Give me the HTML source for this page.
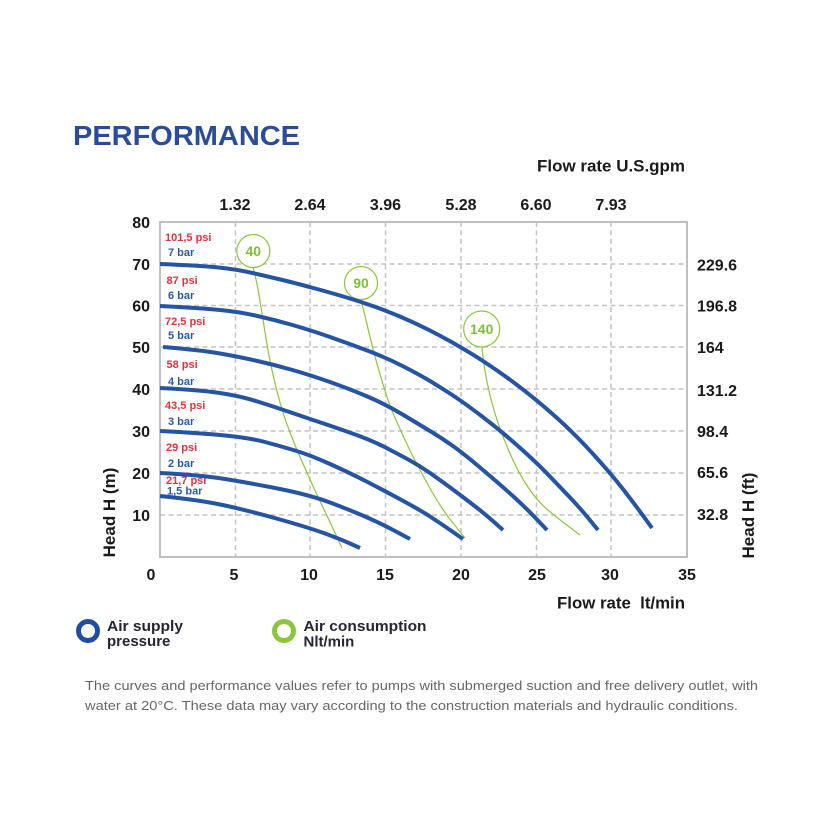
<!DOCTYPE html>
<html>
<head>
<meta charset="utf-8">
<style>
  html,body{margin:0;padding:0;background:#fff;}
  svg{display:block;}
  text{font-family:"Liberation Sans", Arial, sans-serif;}
</style>
</head>
<body>
<svg width="833" height="833" viewBox="0 0 833 833" xmlns="http://www.w3.org/2000/svg">
  <rect width="833" height="833" fill="#fff"/>

  <!-- Title -->
  <text x="73" y="145" font-size="27.5" font-weight="bold" fill="#2b4c9b" textLength="227" lengthAdjust="spacingAndGlyphs">PERFORMANCE</text>

  <!-- Top axis title -->
  <text x="537" y="171.5" font-size="17" font-weight="bold" fill="#1a1a1a" textLength="148" lengthAdjust="spacingAndGlyphs">Flow rate U.S.gpm</text>

  <!-- Top labels -->
  <g font-size="16" font-weight="bold" fill="#1a1a1a" text-anchor="middle">
    <text x="235" y="210">1.32</text>
    <text x="310" y="210">2.64</text>
    <text x="385.5" y="210">3.96</text>
    <text x="461" y="210">5.28</text>
    <text x="536" y="210">6.60</text>
    <text x="611" y="210">7.93</text>
  </g>

  <!-- Grid -->
  <g stroke="#c4c4c4" stroke-width="1.5" stroke-dasharray="5,3.5" fill="none">
    <line x1="160" y1="264" x2="687" y2="264"/>
    <line x1="160" y1="305.5" x2="687" y2="305.5"/>
    <line x1="160" y1="347" x2="687" y2="347"/>
    <line x1="160" y1="389" x2="687" y2="389"/>
    <line x1="160" y1="431" x2="687" y2="431"/>
    <line x1="160" y1="473" x2="687" y2="473"/>
    <line x1="160" y1="515" x2="687" y2="515"/>
    <line x1="235.5" y1="222" x2="235.5" y2="557"/>
    <line x1="310" y1="222" x2="310" y2="557"/>
    <line x1="385.5" y1="222" x2="385.5" y2="557"/>
    <line x1="461" y1="222" x2="461" y2="557"/>
    <line x1="536.5" y1="222" x2="536.5" y2="557"/>
    <line x1="611" y1="222" x2="611" y2="557"/>
  </g>
  <rect x="160" y="222" width="527" height="335" fill="none" stroke="#c0c0c0" stroke-width="2"/>

  <!-- Left labels -->
  <g font-size="16" font-weight="bold" fill="#1a1a1a" text-anchor="end">
    <text x="150" y="228">80</text>
    <text x="150" y="270">70</text>
    <text x="150" y="311.5">60</text>
    <text x="150" y="353">50</text>
    <text x="150" y="395">40</text>
    <text x="150" y="437">30</text>
    <text x="150" y="479">20</text>
    <text x="150" y="521">10</text>
  </g>

  <!-- Right labels -->
  <g font-size="16" font-weight="bold" fill="#1a1a1a">
    <text x="697" y="270.5">229.6</text>
    <text x="697" y="311.5">196.8</text>
    <text x="697" y="353">164</text>
    <text x="697" y="396">131.2</text>
    <text x="697" y="437">98.4</text>
    <text x="697" y="478">65.6</text>
    <text x="697" y="520">32.8</text>
  </g>

  <!-- Bottom labels -->
  <g font-size="16" font-weight="bold" fill="#1a1a1a" text-anchor="middle">
    <text x="151" y="580">0</text>
    <text x="234" y="580">5</text>
    <text x="309" y="580">10</text>
    <text x="385" y="580">15</text>
    <text x="461" y="580">20</text>
    <text x="537" y="580">25</text>
    <text x="610" y="580">30</text>
    <text x="687" y="580">35</text>
  </g>
  <text x="557" y="608.5" font-size="17" font-weight="bold" fill="#1a1a1a" textLength="128" lengthAdjust="spacingAndGlyphs" xml:space="preserve">Flow rate  lt/min</text>

  <!-- Axis titles rotated -->
  <text transform="translate(115,512.5) rotate(-90)" font-size="17" font-weight="bold" fill="#1a1a1a" text-anchor="middle">Head H (m)</text>
  <text transform="translate(754,515.5) rotate(-90)" font-size="17" font-weight="bold" fill="#1a1a1a" text-anchor="middle">Head H (ft)</text>

  <!-- Pressure labels -->
  <g font-size="11" font-weight="bold">
    <text x="165" y="241" fill="#e8323c">101,5 psi</text>
    <text x="168" y="256" fill="#2d5aa8">7 bar</text>
    <text x="166.5" y="284" fill="#e8323c">87 psi</text>
    <text x="168" y="299" fill="#2d5aa8">6 bar</text>
    <text x="165" y="325" fill="#e8323c">72,5 psi</text>
    <text x="168" y="339" fill="#2d5aa8">5 bar</text>
    <text x="166.5" y="368" fill="#e8323c">58 psi</text>
    <text x="168" y="385" fill="#2d5aa8">4 bar</text>
    <text x="165" y="409" fill="#e8323c">43,5 psi</text>
    <text x="168" y="425" fill="#2d5aa8">3 bar</text>
    <text x="166" y="451" fill="#e8323c">29 psi</text>
    <text x="168" y="467" fill="#2d5aa8">2 bar</text>
    <text x="166" y="484" fill="#e8323c">21,7 psi</text>
    <text x="167" y="494.5" fill="#2d5aa8">1,5 bar</text>
  </g>

  <!-- Green air consumption curves -->
  <g fill="none" stroke="#8cc63f" stroke-width="1.2" stroke-linejoin="round">
    <path d="M253,267.5 Q256.7,280 259.85,300 Q263,320 266.5,341.5 Q270,363 275.85,386.5 Q281.7,410 286.7,423.5 Q291.7,437 295.85,447 Q300,457 308,475 Q316,493 323,507.5 Q330,522 336,535 L342,548"/>
    <path d="M361,299.5 Q366,320 369.5,335 Q373,350 377.35,365 Q381.7,380 385.85,393.5 Q390,407 397.5,423.5 Q405,440 409,448.5 Q413,457 426.5,482 Q440,507 452.5,522.5 L465,538"/>
    <path d="M482,347 Q483.3,363 486.65,380 Q490,397 495,413.5 Q500,430 508.5,450 Q517,470 525,482.5 Q533,495 540,502.5 Q547,510 563.5,522.5 L580,535"/>
    <circle cx="253.3" cy="251" r="16.5" fill="#fff"/>
    <circle cx="361" cy="283" r="16.5" fill="#fff"/>
    <circle cx="481.7" cy="329" r="18" fill="#fff"/>
  </g>
  <g font-size="14" font-weight="bold" fill="#7dbf3a" text-anchor="middle">
    <text x="253.3" y="256">40</text>
    <text x="361" y="288">90</text>
    <text x="481.7" y="334">140</text>
  </g>

  <!-- Blue pressure curves -->
  <g fill="none" stroke="#2554a5" stroke-width="4" stroke-linejoin="round">
    <path d="M160,264 Q200,265.6 218.5,267.5 Q237,269.4 253.5,273.2 Q270,277 281.5,279.75 Q293,282.5 311.5,287.5 Q330,292.5 345,297 Q360,301.5 373.5,306.25 Q387,311 401,317 Q415,323 427.5,329.25 Q440,335.5 451.5,342 Q463,348.5 473,354.65 Q483,360.8 496.5,370.1 Q510,379.4 523.5,389.95 Q537,400.5 548.5,410.5 Q560,420.5 568.5,428.65 Q577,436.8 586,446.4 Q595,456 603.5,465.65 Q612,475.3 621,486.6 Q630,497.9 641,512.95 L652,528"/>
    <path d="M160,306 Q200,308 220,310 Q240,312 257.5,316 Q275,320 292.5,325 Q310,330 330,337 Q350,344 368.5,351 Q387,358 403.5,366.5 Q420,375 430,381 Q440,387 451.5,394.5 Q463,402 481.5,416 Q500,430 518.5,446.5 Q537,463 548.5,475 Q560,487 570,497.5 Q580,508 589,519 L598,530"/>
    <path d="M163,347 Q200,350 220,353.5 Q240,357 257.5,361 Q275,365 292.5,370 Q310,375 330,382 Q350,389 368.5,397 Q387,405 403.5,415 Q420,425 430,431 Q440,437 451.5,445 Q463,453 483,470 Q503,487 514,497 Q525,507 536,518.5 L547,530"/>
    <path d="M160,388 Q200,390 220,393 Q240,396 257.5,401.5 Q275,407 292.5,413 Q310,419 325,424 Q340,429 356.5,435 Q373,441 386.5,448 Q400,455 410,460.5 Q420,466 430,473 Q440,480 451.5,488.5 Q463,497 474,505.5 Q485,514 494,522 L503,530"/>
    <path d="M160,431 Q200,433 225,435.5 Q250,438 265,442 Q280,446 295,450.5 Q310,455 330,464 Q350,473 366.5,481.5 Q383,490 401.5,500 Q420,510 430,516.5 Q440,523 451.5,531 L463,539"/>
    <path d="M160,473 Q200,475 225,479 Q250,483 280,489 Q310,495 330,502.5 Q350,510 365,516.5 Q380,523 395,531 L410,539"/>
    <path d="M160,496 Q200,500 225,505.5 Q250,511 280,519.5 Q310,528 325,533.5 Q340,539 350,543.5 L360,548"/>
  </g>

  <!-- Legend -->
  <circle cx="88" cy="631" r="9.5" fill="none" stroke="#1f4f9c" stroke-width="5"/>
  <g font-size="15" font-weight="bold" fill="#262633">
    <text x="107" y="631" textLength="76" lengthAdjust="spacingAndGlyphs">Air supply</text>
    <text x="107" y="646">pressure</text>
  </g>
  <circle cx="284" cy="631" r="9.5" fill="none" stroke="#8cc63f" stroke-width="5"/>
  <g font-size="15" font-weight="bold" fill="#262633">
    <text x="303.5" y="631" textLength="123" lengthAdjust="spacingAndGlyphs">Air consumption</text>
    <text x="303.5" y="646.5">Nlt/min</text>
  </g>

  <!-- Note -->
  <g font-size="13" fill="#666">
    <text x="85" y="690" textLength="673" lengthAdjust="spacingAndGlyphs">The curves and performance values refer to pumps with submerged suction and free delivery outlet, with</text>
    <text x="85" y="710" textLength="653" lengthAdjust="spacingAndGlyphs">water at 20°C. These data may vary according to the construction materials and hydraulic conditions.</text>
  </g>
</svg>
</body>
</html>
